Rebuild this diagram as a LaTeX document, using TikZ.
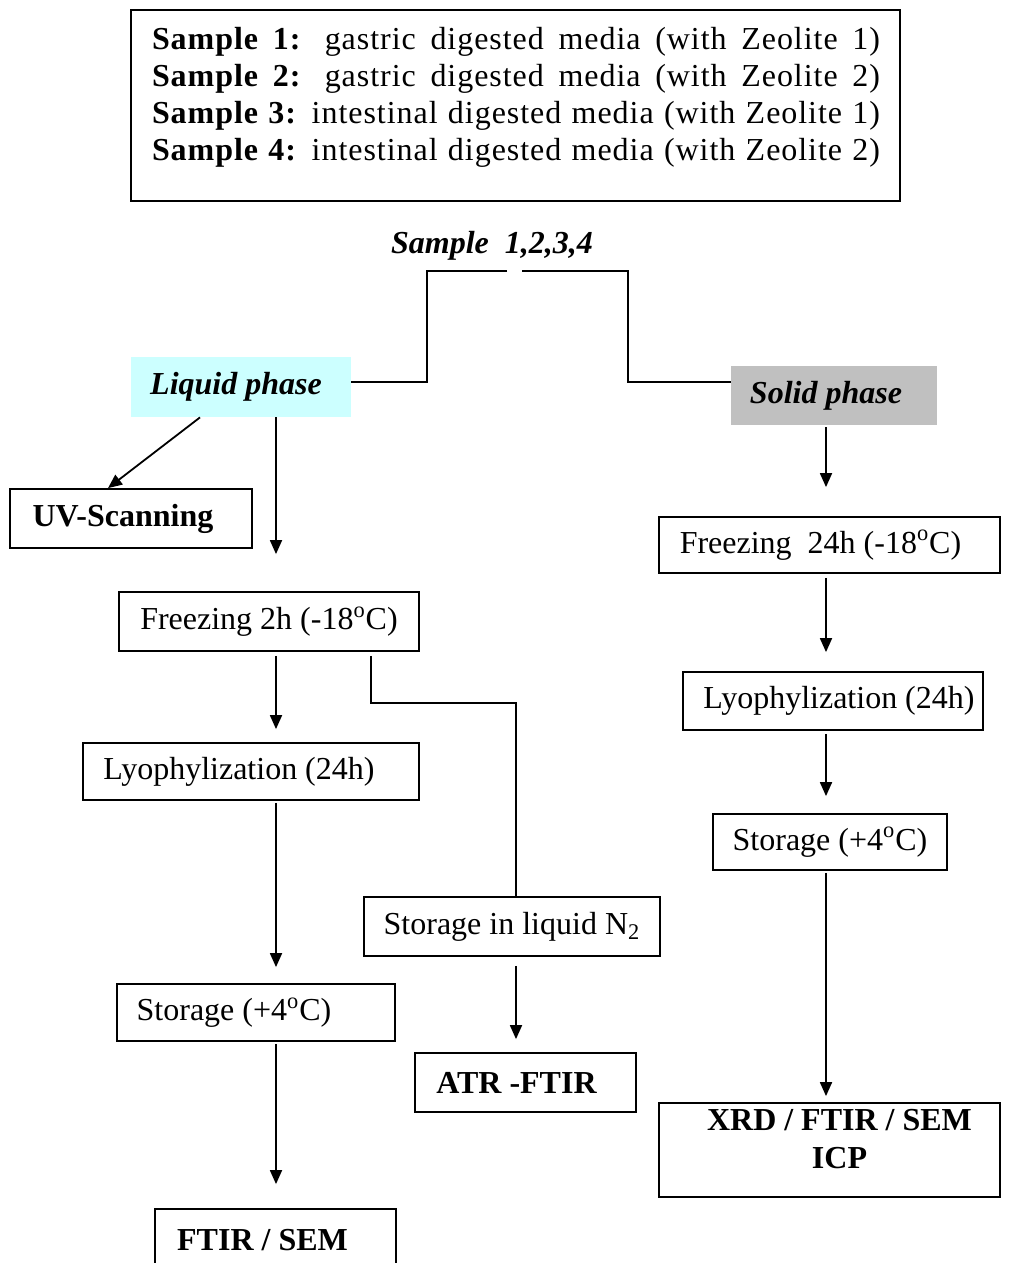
\documentclass[tikz,border=0pt]{standalone}
\usepackage{fontspec}
\setmainfont{Liberation Serif}
\newfontfamily\legendfont[LetterSpace=3]{Liberation Serif}
\usetikzlibrary{arrows.meta,positioning,calc}

\begin{document}
\begin{tikzpicture}[x=0.5pt,y=-0.5pt]
\tikzset{
  stepbox/.style={draw=black,line width=0.9pt,inner sep=0pt,font=\fontsize{16}{19}\selectfont},
  phasebox/.style={inner sep=0pt,font=\fontsize{16}{19}\selectfont\bfseries\itshape},
  link/.style={draw=black,line width=0.9pt},
  flow/.style={link,-{Triangle[length=7pt,width=6pt]}}
}
\useasboundingbox (0,0) rectangle (1008,1263);
% legend
\node[stepbox,minimum width=384.5pt,minimum height=95.5pt] (legend) at (515.5,105.5) {};
\node[inner sep=0pt,align=left,font=\fontsize{16}{18.5}\selectfont\legendfont] (legendtext) at (516,97.5)
  {\makebox[364pt][s]{\textbf{Sample 1:} gastric digested media (with Zeolite 1)}\\
   \makebox[364pt][s]{\textbf{Sample 2:} gastric digested media (with Zeolite 2)}\\
   \makebox[364pt][s]{\textbf{Sample 3:} intestinal digested media (with Zeolite 1)}\\
   \makebox[364pt][s]{\textbf{Sample 4:} intestinal digested media (with Zeolite 2)}};
% phases
\node[phasebox] (sample) at (492,246) {Sample\ \ 1,2,3,4};
\node[phasebox,fill={rgb,255:red,204;green,255;blue,255},minimum width=110pt,minimum height=30pt] (liquid) at (241,387) {Liquid phase\kern5pt};
\node[phasebox,fill={rgb,255:red,192;green,192;blue,192},minimum width=103pt,minimum height=29.5pt] (solid) at (834,395.5) {Solid phase\kern8pt};
% liquid branch
\node[stepbox,font=\fontsize{16}{19}\selectfont\bfseries,minimum width=121pt,minimum height=29.5pt] (uv) at (131,518.5) {UV-Scanning\kern8pt};
\node[stepbox,minimum width=150pt,minimum height=29.5pt] (freezeL) at (269,621.5) {Freezing 2h (-18\textsuperscript{o}C)};
\node[stepbox,minimum width=168pt,minimum height=28.5pt] (lyoL) at (251,771.5) {Lyophylization (24h)\kern12pt};
\node[stepbox,minimum width=139pt,minimum height=28.5pt] (storeL) at (256,1012.5) {Storage (+4\textsuperscript{o}C)\kern22pt};
\node[stepbox,font=\fontsize{16}{19}\selectfont\bfseries,minimum width=120.5pt,minimum height=31pt] (ftirL) at (275.5,1240) {FTIR / SEM\kern13pt};
\node[stepbox,minimum width=148pt,minimum height=29.5pt] (storeN) at (512,926.5) {Storage in liquid N\textsubscript{2}};
\node[stepbox,font=\fontsize{16}{19}\selectfont\bfseries,minimum width=110.5pt,minimum height=29.5pt] (atr) at (525.5,1082.5) {ATR -FTIR\kern9pt};
% solid branch
\node[stepbox,minimum width=170.5pt,minimum height=28pt] (freezeS) at (829.5,545) {Freezing\ \ 24h (-18\textsuperscript{o}C)\kern9pt};
\node[stepbox,minimum width=150pt,minimum height=29pt] (lyoS) at (833,701) {\kern6pt Lyophylization (24h)};
\node[stepbox,minimum width=117pt,minimum height=28pt] (storeS) at (830,842) {Storage (+4\textsuperscript{o}C)};
\node[stepbox,font=\fontsize{16}{19}\selectfont\bfseries,align=center,minimum width=170.5pt,minimum height=47pt] (xrd) at (829.5,1150) {\kern10pt XRD / FTIR / SEM\\\kern10pt ICP\\[-8pt]};

\coordinate (colL) at (276,0);
\coordinate (colN) at (516,0);
\coordinate (colR) at (826,0);
\coordinate (splitL) at (507,271);
\coordinate (splitR) at (522,271);
\coordinate (jL) at (427,382);
\coordinate (jR) at (628,382);
\coordinate (jN) at (371,703);

% split
\draw[link] (splitL) -| (jL) -- (jL -| liquid.east);
\draw[link] (splitR) -| (jR) -- (jR -| solid.west);
% liquid arrows
\draw[flow] ([xshift=-20.5pt]liquid.south) -- ([xshift=-11.5pt]uv.north);
\draw[flow] (liquid.south -| colL) -- ([yshift=18.5pt]freezeL.north -| colL);
\draw[flow] ([yshift=-2pt]freezeL.south -| colL) -- ([yshift=6.5pt]lyoL.north -| colL);
\draw[flow] ([yshift=-1pt]lyoL.south -| colL) -- ([yshift=8pt]storeL.north -| colL);
\draw[flow] ([yshift=-1pt]storeL.south -| colL) -- ([yshift=12pt]ftirL.north -| colL);
\draw[link] ([yshift=-2pt]freezeL.south -| jN) -- (jN) -| (storeN.north -| colN);
\draw[flow] ([yshift=-4.5pt]storeN.south -| colN) -- ([yshift=6.5pt]atr.north -| colN);
% solid arrows
\draw[flow] ([yshift=-1pt]solid.south -| colR) -- ([yshift=14.5pt]freezeS.north -| colR);
\draw[flow] ([yshift=-2pt]freezeS.south -| colR) -- ([yshift=9.5pt]lyoS.north -| colR);
\draw[flow] ([yshift=-1.5pt]lyoS.south -| colR) -- ([yshift=8.5pt]storeS.north -| colR);
\draw[flow] ([yshift=-1pt]storeS.south -| colR) -- ([yshift=3pt]xrd.north -| colR);
\end{tikzpicture}
\end{document}
